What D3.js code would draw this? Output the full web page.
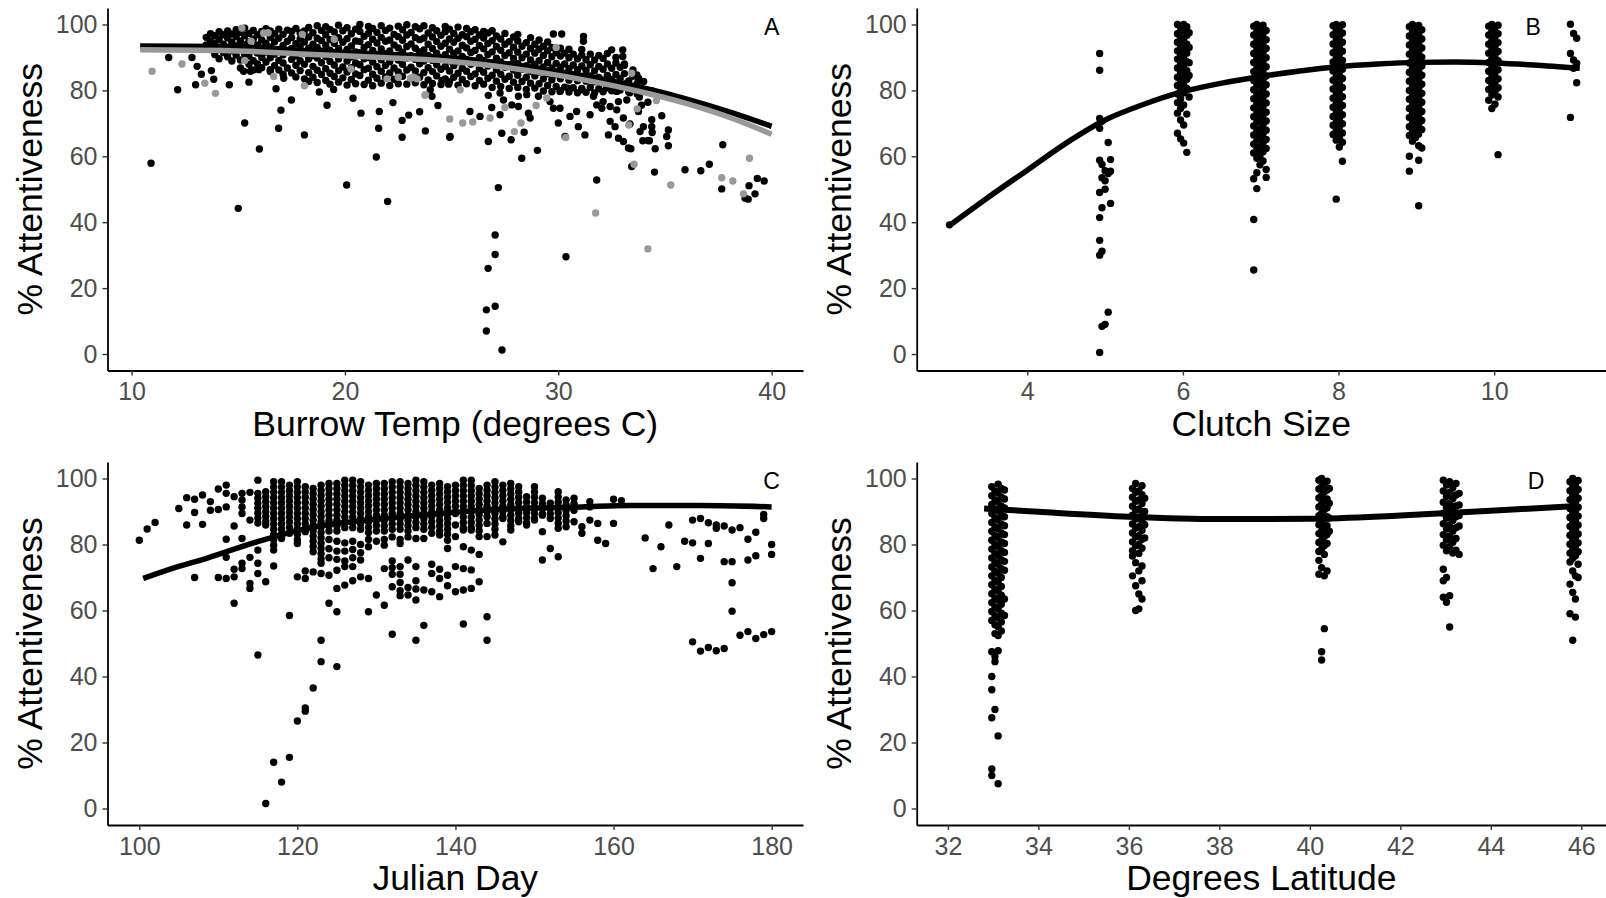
<!DOCTYPE html>
<html>
<head>
<meta charset="utf-8">
<script src="https://cdn.jsdelivr.net/npm/d3@7"></script>
<style>
body { margin: 0; background: #fff; }
svg { display: block; background: #fff; font-family: "Liberation Sans", Arial, sans-serif; }
.tick text { fill: #4d4d4d; font-size: 25px; font-family: "Liberation Sans", Arial, sans-serif; }
.tick line { stroke: #333; stroke-width: 1.4; }
.domain { stroke: #000; stroke-width: 1.8; }
.title { font-size: 35.5px; fill: #000; }
.plabel { font-size: 23px; fill: #000; }
</style>
</head>
<body>
<svg id="chart" width="1606" height="898"></svg>
<script>
// tick values
const yTicks = [0, 20, 40, 60, 80, 100];
const tempTicks = [10, 20, 30, 40];
const clutchTicks = [4, 6, 8, 10];
const dayTicks = [100, 120, 140, 160, 180];
const latTicks = [32, 34, 36, 38, 40, 42, 44, 46];

// Panel A - burrow temp. dense band as [x, [y...]]
const tempBand = [
  [13.5,[93.8,96.1]],[13.7,[92.4,95.0,97.2]],[13.9,[90.9,94.2,96.6]],[14.1,[92.8,95.5,97.8,89.6]],
  [14.3,[91.5,94.0,96.9]],[14.5,[93.1,95.9,98.0,90.2]],[14.7,[92.0,94.6,97.1,88.9]],[14.9,[90.7,93.5,96.3,98.4]],
  [15.1,[89.2,92.4,95.0,97.6,86.8]],[15.3,[91.0,93.9,96.6,98.9]],[15.5,[87.9,90.4,94.8,97.3]],[15.7,[89.0,92.1,95.6,98.2,86.2]],
  [15.9,[91.3,93.8,96.9,88.0]],[16.1,[86.9,90.0,92.9,95.3,97.9]],[16.3,[88.6,91.6,94.3,98.7]],[16.5,[85.7,89.9,93.1,96.1,98.0]],
  [16.7,[87.5,91.0,94.7,97.2]],[16.9,[86.2,89.1,92.4,95.8,98.6]],[17.1,[88.3,90.8,93.6,97.0,84.9]],[17.3,[86.8,91.9,94.9,98.3]],
  [17.5,[85.3,89.4,92.7,96.0,97.9]],[17.7,[87.6,90.5,94.2,98.8,84.1]],[17.9,[86.0,89.0,93.3,95.6,97.4]],[18.1,[83.5,87.9,91.2,94.7,98.0]],
  [18.3,[85.4,89.5,92.8,96.2,99.1,82.7]],[18.5,[84.0,87.3,90.6,94.0,97.5]],[18.7,[82.4,86.1,89.8,93.0,95.8,99.6]],[18.9,[84.8,88.4,91.9,95.1,98.2]],
  [19.1,[83.0,86.6,90.3,93.7,96.9,99.3]],[19.3,[81.9,85.2,88.8,92.2,95.4,98.5]],[19.5,[84.2,87.7,91.0,94.3,97.7]],[19.7,[82.5,86.0,89.5,92.7,96.0,99.8]],
  [19.9,[83.8,87.1,90.8,94.6,98.1]],[20.1,[81.6,85.6,88.9,92.4,95.7,99.0]],[20.3,[83.3,86.9,90.1,93.5,97.2]],[20.5,[82.0,85.0,88.3,91.7,95.0,98.6]],
  [20.7,[84.5,87.8,91.4,94.8,97.9,100.0]],[20.9,[81.8,86.3,89.6,93.0,96.4]],[21.1,[83.1,86.7,90.0,93.9,97.3,99.4]],[21.3,[81.4,84.9,88.6,92.1,95.5,98.8]],
  [21.5,[83.7,87.2,90.9,94.4,97.6]],[21.7,[82.2,85.8,89.3,92.6,96.1,99.6]],[21.9,[84.1,87.6,91.1,94.9,98.2]],[22.1,[81.5,85.3,88.7,92.0,95.3,98.9]],
  [22.3,[83.4,86.8,90.4,93.8,97.0]],[22.5,[82.0,85.6,89.2,92.9,96.3,99.5]],[22.7,[84.3,87.9,91.6,95.2,98.4]],[22.9,[81.9,86.2,89.8,93.3,96.8,99.9]],
  [23.1,[83.6,87.0,90.5,94.1,97.6]],[23.3,[82.3,85.9,89.4,92.8,96.0,99.3]],[23.5,[84.0,88.1,91.7,95.4,98.7]],[23.7,[81.7,85.4,88.9,92.3,95.9,99.6]],
  [23.9,[83.2,86.9,90.6,94.0,97.4]],[24.1,[82.1,85.7,89.1,92.7,96.2,99.0]],[24.3,[84.4,87.8,91.3,94.8,98.1]],[24.5,[81.8,86.4,89.9,93.4,96.7]],
  [24.7,[83.5,87.3,90.8,94.3,97.8,99.4]],[24.9,[82.6,85.9,89.0,92.5,95.6,98.6]],[25.1,[84.0,87.5,91.2,94.6,97.3]],[25.3,[81.6,85.2,88.7,92.0,95.8,99.2]],
  [25.5,[83.3,86.7,90.3,93.7,96.9]],[25.7,[82.0,85.8,89.4,92.9,96.3,98.8]],[25.9,[84.2,87.9,91.5,94.9,97.8]],[26.1,[81.4,85.0,88.5,92.1,95.5,98.4]],
  [26.3,[83.0,86.6,90.0,93.6,96.8]],[26.5,[81.9,85.5,89.1,92.6,95.9,97.9]],[26.7,[83.7,87.4,90.9,94.2,97.4]],[26.9,[80.9,84.6,88.2,91.7,95.1,98.1]],
  [27.1,[82.8,86.3,89.8,93.3,96.5]],[27.3,[81.2,84.9,88.6,92.2,95.6]],[27.5,[83.4,87.0,90.6,94.0,97.3]],[27.7,[80.6,84.3,87.8,91.4,94.8]],
  [27.9,[82.5,86.2,89.7,93.1,96.2]],[28.1,[80.9,84.6,88.1,91.6,95.0,97.0]],[28.3,[82.7,86.4,89.9,93.4]],[28.5,[80.3,84.0,87.5,91.0,94.5]],
  [28.7,[82.2,85.8,89.2,92.7,96.0]],[28.9,[80.7,84.4,87.9,91.3,94.0]],[29.1,[82.0,85.6,89.0,92.5,95.3]],[29.3,[79.8,83.5,87.1,90.6,93.4]],
  [29.5,[81.5,85.0,88.5,92.0,94.7]],[29.7,[79.6,83.2,86.8,90.2,93.0]],[29.9,[81.2,84.8,88.2,91.5]],[30.1,[79.9,83.5,87.0,90.4,92.8]],
  [30.3,[81.0,84.6,88.0,91.3]],[30.5,[79.5,83.1,86.6,89.9,92.5]],[30.7,[80.8,84.3,87.7,91.0]],[30.9,[79.3,82.9,86.3,89.6]],
  [31.1,[80.6,84.0,87.4,90.7,92.4]],[31.3,[79.4,82.8,86.1,89.3]],[31.5,[80.9,84.4,87.8,91.0]],[31.7,[79.2,82.6,85.9,89.2]],
  [31.9,[80.5,83.9,87.3,90.6]],[32.1,[79.6,83.0,86.4,89.7]],[32.3,[81.1,84.5,88.0,91.2]],[32.5,[79.9,83.3,86.7]],
  [32.7,[81.4,84.8,88.3,90.0]],[32.9,[80.1,83.6,87.0]],[33.1,[81.7,85.1,88.0]],[33.3,[79.5,82.9]],
  [33.5,[80.8,84.3]],[33.7,[78.9,82.2]],[33.9,[80.3]]
];

// Panel A - scattered black points [temp, attentiveness]
const tempBlack = [
  [11.74,90.0],[12.16,80.2],[12.83,90.0],[13.07,87.3],[13.27,84.9],[13.74,86.0],[13.0,81.7],[13.85,83.4],[14.58,81.7],
  [15.3,70.1],[15.99,62.2],[10.91,57.9],[15.0,44.2],[15.25,85.8],[15.5,82.5],[15.57,85.8],[15.96,86.3],[16.5,86.3],
  [16.77,80.5],[17.13,83.7],[17.0,74.0],[17.49,77.1],[16.89,68.5],[18.1,66.5],[18.8,79.5],[19.16,75.5],[19.47,80.3],
  [20.38,77.6],[20.75,73.1],[20.08,51.3],[21.47,59.8],[21.61,73.6],[21.58,68.5],[22.0,46.3],[22.25,76.3],[22.68,70.9],
  [22.99,72.5],[22.68,65.8],[23.5,73.5],[23.77,67.7],[24.36,75.4],[24.91,65.8],[24.0,80.2],[24.08,78.2],[24.55,83.0],
  [24.86,81.9],[31.18,96.4],[31.18,94.9],[29.77,97.1],[30.16,97.1],[32.5,92.3],[33.02,92.3],[33.02,90.3],[33.68,84.7],
  [33.76,83.7],[33.21,77.1],[33.76,73.6],[34.38,71.1],[33.99,69.0],[33.83,67.5],[34.38,69.0],[35.16,68.0],[35.08,66.0],
  [35.16,63.2],[34.54,62.3],[33.96,64.7],[34.27,64.7],[33.44,56.9],[34.51,55.2],[35.94,55.9],[36.68,55.6],[37.08,57.6],
  [37.71,63.5],[37.66,50.1],[38.76,47.3],[38.94,51.1],[39.22,48.6],[39.33,53.3],[39.65,52.5],[38.9,47.0],[31.8,52.8],
  [27.19,50.5],[28.29,59.4],[29.02,61.8],[26.72,64.5],[27.79,65.0],[27.35,67.0],[28.4,67.3],[30.32,66.0],[31.25,66.5],
  [30.94,69.0],[30.55,72.1],[30.0,70.1],[30.08,74.6],[30.86,73.6],[31.49,72.6],[32.04,74.6],[32.43,75.1],[32.74,74.1],
  [32.43,70.6],[32.66,69.0],[32.35,66.5],[32.82,65.5],[33.05,64.5],[33.29,62.5],[33.36,69.8],[33.05,71.6],[32.82,76.6],
  [24.93,66.0],[26.33,72.1],[25.86,73.6],[27.27,72.6],[26.88,74.8],[27.82,75.6],[28.13,75.1],[28.6,73.1],[28.68,71.6],
  [27.43,77.1],[26.72,78.5],[27.27,79.2],[28.13,78.2],[28.52,78.7],[29.07,78.2],[29.61,76.6],[29.77,74.6],[30.08,79.7],
  [30.47,80.7],[31.1,80.2],[31.65,78.2],[31.8,75.6],[32.1,76.6],[32.27,80.7],[32.74,79.7],[34.85,72.3],[34.4,67.2],
  [34.2,64.8],[33.4,62.3],[27.04,36.1],[27.04,30.2],[26.71,26.0],[26.63,13.4],[27.04,14.5],[26.63,7.0],[27.36,1.2],
  [30.36,29.5],[33.1,87.6],[33.2,82.1],[33.35,79.3],[33.5,86.2],[33.6,80.5],[33.8,78.0],[34.0,82.7],[34.2,76.4],
  [34.4,79.8],[33.9,75.5]
];

// Panel A - grey points
const tempGray = [
  [10.96,85.8],[12.36,88.0],[13.43,82.2],[13.93,79.1],[15.3,89.1],[15.6,94.9],[16.19,97.4],[15.17,98.9],[16.4,97.5],
  [16.66,84.2],[18.1,81.4],[20.28,86.5],[21.97,83.5],[23.07,83.7],[23.38,83.5],[23.77,78.7],[24.91,71.3],[25.52,70.1],
  [25.99,70.4],[26.8,71.6],[27.5,74.8],[27.94,67.5],[28.25,70.1],[28.96,75.4],[29.46,77.7],[30.35,65.7],[33.44,85.2],
  [33.55,57.6],[35.27,51.3],[37.66,53.5],[38.18,52.5],[38.96,59.4],[38.68,48.6],[31.75,42.8],[34.2,31.9],[29.9,93.0],
  [22.5,84.0],[18.0,97.0],[19.5,95.5],[33.3,69.5],[34.6,76.9],[33.7,74.4],[25.4,80.2],[23.2,84.0],[23.75,78.5]
];

const tempFitBlack = [[10.4,93.5],[14.3,93.3],[18.5,92.0],[22,91.0],[25,89.9],[29.6,86.2],[33.7,81.2],[35.9,77.6],[38.2,73.1],[40,69.1]];
const tempFitGray = [[10.4,92.3],[14.3,92.1],[18.5,90.9],[22,89.9],[25,88.8],[29.6,85.0],[33.7,79.8],[35.9,76.2],[38.2,71.4],[40,66.7]];

// Panel B - clutch size, jittered columns [x, [y...]]
const clutchCols = [
  [3.0,[39.2]],
  [4.93,[91.2,86.1,71.5,68.5,58.8,49.0,41.4,34.5,30.0,0.5]],
  [4.96,[70.6,57.5,53.5,44.4,31.2,8.4]],
  [5.0,[55.6,52.6,50.0,9.0]],
  [5.04,[64.2,54.8,12.7]],
  [5.07,[59.0,55.5,45.7]],
  [5.93,[100,97.2,94.6,92.0,89.5,86.8,84.0,81.5,78.9,76.3,73.1,67.0]],
  [5.97,[99.0,96.0,93.3,90.7,88.0,85.4,82.7,80.0,77.5,74.5,71.0,65.3]],
  [6.01,[100,98.0,95.3,92.5,89.8,87.2,84.6,81.9,79.3,75.6,69.5,64.0]],
  [6.05,[99.3,96.7,94.0,91.3,88.7,86.0,83.4,80.6,72.8,61.2]],
  [6.08,[97.5,93.0,88.4,84.5,78.0]],
  [6.91,[99.5,96.8,94.0,91.2,88.5,85.7,83.0,80.2,77.5,74.7,72.0,69.2,66.5,63.7,61.0,53.2,40.8,25.5]],
  [6.95,[100,97.8,95.1,92.3,89.6,86.9,84.1,81.4,78.6,75.9,73.1,70.4,67.6,64.9,62.1,59.4,55.0,50.2]],
  [6.99,[98.7,95.9,93.2,90.4,87.7,84.9,82.2,79.4,76.7,73.9,71.2,68.4,65.7,62.9,60.2,57.4]],
  [7.03,[99.8,97.1,94.4,91.6,88.9,86.1,83.4,80.6,77.9,75.1,72.4,69.6,66.9,64.1,61.4,58.6]],
  [7.07,[98.2,95.4,92.7,89.9,87.2,84.4,81.7,78.9,76.2,73.4,70.7,67.9,65.1,62.4,56.0,53.6]],
  [7.93,[99.6,96.9,94.1,91.4,88.6,85.9,83.1,80.4,77.6,74.9,72.1,69.4,66.6]],
  [7.97,[100,98.0,95.2,92.5,89.7,87.0,84.2,81.5,78.7,76.0,73.2,70.5,67.7,64.9,47.0]],
  [8.01,[99.0,96.3,93.5,90.8,88.0,85.3,82.5,79.8,77.0,74.3,71.5,68.8,65.8,62.8]],
  [8.05,[99.9,97.4,94.6,91.9,89.1,86.4,83.6,80.9,78.1,75.4,72.6,69.9,67.1,64.3,58.5]],
  [8.91,[99.3,96.5,93.8,91.0,88.3,85.5,82.8,80.0,77.3,74.5,71.8,69.0,66.3,60.0,55.5]],
  [8.95,[100,97.6,94.9,92.1,89.4,86.6,83.9,81.1,78.4,75.6,72.9,70.1,67.4,64.6]],
  [8.99,[98.8,96.0,93.3,90.5,87.8,85.0,82.3,79.5,76.8,74.0,71.3,68.5,65.7]],
  [9.03,[99.7,97.0,94.3,91.5,88.8,86.0,83.3,80.5,77.8,75.0,72.3,69.5,66.8,63.2,58.8,45.0]],
  [9.07,[98.4,95.6,92.9,90.1,87.4,84.6,81.9,79.1,76.4,73.6,70.9,68.1,62.5]],
  [9.93,[99.5,96.8,94.0,91.3,88.5,85.8,83.0,80.3,77.0]],
  [9.97,[100,97.9,95.1,92.4,89.6,86.9,84.1,81.4,78.6,74.5]],
  [10.01,[98.9,96.2,93.4,90.7,87.9,85.2,82.4,79.7,75.8]],
  [10.05,[99.8,97.2,94.5,91.8,89.0,86.3,83.5,80.8,78.0,60.5]],
  [10.98,[100.1,91.2,71.8]],
  [11.02,[97.3,89.2,86.7]],
  [11.06,[95.8,88.2,82.3]]
];
const clutchFit = [[3,39],[3.5,47.6],[4,55.8],[4.5,64],[5,71],[5.5,75.8],[6,79.6],[6.5,82.2],[7,84.2],[7.5,85.9],[8,87.2],[8.5,88.0],[9,88.5],[9.5,88.6],[10,88.3],[10.5,87.7],[11.1,86.7]];

// Panel C - julian day columns [day, [y...]]
const dayCols = [
  [100,[81.3]],[101,[84.7]],[102,[86.7]],[105,[90.9]],[106,[94.2,85.9]],[107,[93.7,89.7,70.0]],
  [108,[95.0,86.1]],[109,[93.0,90.4]],[110,[96.8,90.6,70.0]],[111,[98.0,95.5,91.4,81.6,76.1,69.7]],
  [112,[94.5,85.6,72.5,70.2,62.2]],[113,[95.5,93.5,91.4,89.4,81.8,74.3,72.7]],[114,[95.8,87.4,76.1,68.2,66.7]],
  [115,[99.5,95.5,94.0,92.5,91.0,89.5,88.0,86.5,78.3,74.3,71.2,46.5]],
  [116,[96.0,94.5,93.0,91.5,90.0,88.5,87.0,85.9,68.7,1.5]],
  [117,[99.0,97.4,95.8,94.2,92.6,91.0,89.4,87.8,86.2,84.6,83.0,81.4,79.8,78.3,73.5,14.0]],
  [118,[99.0,97.4,95.8,94.2,92.6,91.0,89.4,87.8,86.2,84.6,83.1,81.8,8.0]],
  [119,[98.0,96.4,94.8,93.2,91.6,90.0,88.4,86.8,85.2,83.4,58.5,15.5]],
  [120,[99.0,97.4,95.8,94.2,92.6,91.0,89.4,87.8,86.2,84.6,83.0,81.4,80.3,70.2,26.5]],
  [121,[97.5,95.9,94.3,92.7,91.1,89.5,87.9,86.3,84.7,83.9,72.0,69.7,30.5,29.5]],
  [122,[97.0,95.4,93.8,92.2,90.6,89.0,87.4,85.8,84.2,82.6,81.0,79.4,77.8,71.7,36.5]],
  [123,[98.0,96.4,94.8,93.2,91.6,90.0,88.4,86.8,85.2,83.6,82.0,80.4,78.8,77.2,75.6,74.3,71.2,51.0,44.5]],
  [124,[98.5,96.9,95.3,93.7,92.1,90.5,88.9,87.3,85.7,84.1,81.5,78.7,76.0,70.7,62.2]],
  [125,[98.5,96.9,95.3,93.7,92.1,90.5,88.9,87.3,85.7,84.1,81.0,78.0,75.5,72.2,66.7,59.6,43.0]],
  [126,[99.5,97.9,96.3,94.7,93.1,91.5,89.9,88.3,86.7,85.1,80.5,78.0,75.0,73.3,67.7]],
  [127,[99.5,97.9,96.3,94.7,93.1,91.5,89.9,88.3,86.7,85.1,81.0,78.5,76.0,73.3,69.0]],
  [128,[99.0,97.4,95.8,94.2,92.6,91.0,89.4,87.8,86.2,84.6,80.0,77.5,75.3,70.2]],
  [129,[98.0,96.4,94.8,93.2,91.6,90.0,88.4,86.8,85.2,83.6,81.5,79.3,69.7,59.6]],
  [130,[98.5,96.9,95.3,93.7,92.1,90.5,88.9,87.3,85.7,84.1,81.0,64.7]],
  [131,[98.5,96.9,95.3,93.7,92.1,90.5,88.9,87.3,85.7,84.1,81.5,79.8,72.7,61.6]],
  [132,[99.0,97.4,95.8,94.2,92.6,91.0,89.4,87.8,86.2,84.6,82.3,75.0,73.0,71.0,67.2,52.8]],
  [133,[99.0,97.4,95.8,94.2,92.6,91.0,89.4,87.8,86.2,84.6,81.5,80.3,73.3,71.0,68.5,66.0,64.5]],
  [134,[98.5,96.9,95.3,93.7,92.1,90.5,88.9,87.3,85.7,84.1,82.3,75.3,67.0,64.7]],
  [135,[99.5,97.9,96.3,94.7,93.1,91.5,89.9,88.3,86.7,85.1,81.8,73.3,69.0,66.5,63.2,51.0]],
  [136,[99.0,97.4,95.8,94.2,92.6,91.0,89.4,87.8,86.2,84.6,81.8,66.2,55.5]],
  [137,[98.0,96.4,94.8,93.2,91.6,90.0,88.4,86.8,85.2,83.4,74.0,71.2,65.7]],
  [138,[98.5,96.9,95.3,93.7,92.1,90.5,88.9,87.3,85.7,84.1,82.9,72.5,69.7,64.2]],
  [139,[97.5,95.9,94.3,92.7,91.1,89.5,87.9,86.3,84.7,83.1,81.3,78.8,70.7,67.5]],
  [140,[98.0,96.4,94.8,93.2,91.6,90.0,89.4,85.9,82.4,73.3,65.7]],
  [141,[99.5,97.9,96.3,94.7,93.1,91.5,89.9,88.3,86.7,85.1,84.4,79.3,72.7,66.2,55.9]],
  [142,[99.5,97.9,96.3,94.7,93.1,91.5,89.9,88.3,86.7,85.1,84.4,78.3,72.3,66.7]],
  [143,[97.0,95.4,93.8,92.2,90.6,89.0,87.4,85.8,84.2,82.4,77.0,68.7]],
  [144,[98.0,96.4,94.8,93.2,91.6,90.0,88.4,86.4,82.4,58.1,51.0]],
  [145,[99.0,97.4,95.8,94.2,92.6,91.0,89.4,87.8,86.2,84.6,82.9]],
  [146,[98.0,96.4,94.8,93.2,91.6,90.0,88.4,87.9,80.8]],
  [147,[98.5,96.9,95.3,93.7,92.1,90.5,88.9,87.3,85.7,84.4]],
  [148,[97.5,95.9,94.3,92.7,91.1,89.5,87.9,86.9]],
  [149,[94.5,92.9,91.3,89.7,88.1,86.5,85.9]],
  [150,[97.5,95.9,94.3,92.7,91.1,89.5,87.9,87.4]],
  [151,[94.0,92.4,90.8,89.2,88.9,83.9,75.3]],
  [152,[92.5,90.9,89.3,87.9,78.8]],
  [153,[96.0,94.4,92.8,91.2,89.6,88.0,86.4,84.9,76.3]],
  [154,[93.5,91.9,90.3,88.7,87.1,85.4]],
  [155,[94.0,92.4,90.4,86.9]],
  [156,[85.4,83.4]],[157,[93.0,91.4,87.4]],[158,[86.4,81.3]],[159,[80.3]],[160,[93.7,86.4]],[161,[93.3]],
  [164,[82.0]],[165,[72.7]],[166,[79.3]],[167,[85.9]],[168,[73.3]],[169,[81.0]],
  [170,[87.4,80.5,50.5]],[171,[87.9,75.8,47.7]],[172,[86.6,80.3,48.8]],[173,[85.9,84.9,47.8]],
  [174,[85.6,74.8,48.5]],[175,[84.4,74.8,68.4,59.8]],[176,[85.1,52.5]],[177,[81.6,75.3,53.6]],
  [178,[83.7,76.6,51.5]],[179,[89.1,87.9,52.7]],[180,[80.0,77.0,53.6]]
];
const dayFit = [[100.5,69.7],[104,72.6],[108.6,75.9],[114.9,80.8],[121.2,84.9],[129.7,87.6],[140,89.8],[147.7,90.9],[156,91.4],[162,91.8],[171,91.8],[180,91.4]];

// Panel D - latitude clusters [lat, [y...]]
const latCols = [
  [32.97,[97.5,94.8,92.1,89.4,86.7,84.0,81.3,78.6,75.9,73.2,70.5,67.8,65.1,62.4,59.7,57.0,47.5,40.0,36.0,27.5,12.0,10.0]],
  [33.04,[96.2,93.5,90.8,88.1,85.4,82.7,80.0,77.3,74.6,71.9,69.2,66.5,63.8,61.1,58.4,55.7,53.0,46.0,44.5,30.0]],
  [33.11,[98.3,95.6,92.9,90.2,87.5,84.8,82.1,79.4,76.7,74.0,71.3,68.6,65.9,63.2,60.5,57.8,55.1,52.4,47.8,22.0,7.5]],
  [33.18,[97.0,94.3,91.6,88.9,86.2,83.5,80.8,78.1,75.4,72.7,70.0,67.3,64.6,61.9,59.2,56.5,53.8]],
  [33.25,[96.5,93.8,91.1,88.4,85.7,83.0,80.3,77.6,74.9,72.2,63.5,58.5]],
  [36.08,[97.0,94.3,91.6,88.9,86.2,83.5,80.8,78.1,76.5,70.5]],
  [36.15,[98.5,95.8,93.1,90.4,87.7,85.0,82.3,79.6,74.5,67.5,60.0]],
  [36.22,[96.2,93.5,90.8,88.1,85.4,82.7,80.0,77.3,72.0,65.0,60.5]],
  [36.29,[97.8,95.1,92.4,89.7,87.0,84.3,81.6,78.9,73.5,69.0,63.5]],
  [36.35,[94.0,90.0,86.0,82.0]],
  [40.2,[99.5,96.8,94.1,91.4,88.7,86.0,83.3,80.6,77.9,75.2,71.0]],
  [40.26,[100,97.5,94.8,92.1,89.4,86.7,84.0,81.3,78.6,73.0,47.5,45.0]],
  [40.32,[98.6,95.9,93.2,90.5,87.8,85.1,82.4,79.7,77.0,70.5,54.5]],
  [40.38,[99.2,96.5,93.8,91.1,88.4,85.7,83.0,80.3,72.0]],
  [40.43,[97.0,92.5,88.0,84.0]],
  [42.95,[99.5,96.2,92.8,89.5,86.3,83.0,79.8,72.5,69.0,64.0]],
  [43.02,[98.0,94.6,91.3,88.0,84.7,81.4,78.1,70.0,62.5]],
  [43.09,[99.0,95.8,92.5,89.2,85.9,82.6,79.3,64.5,55.0]],
  [43.16,[97.2,93.9,90.6,87.3,84.0,80.7,77.4]],
  [43.23,[98.5,95.0,91.7,88.4,85.1,81.8,78.3]],
  [43.3,[95.5,92.0,88.8,85.6,77.0]],
  [45.75,[99.0,96.3,93.6,90.9,88.2,85.5,82.8,80.1,77.4,74.7,68.0,59.0]],
  [45.81,[100,97.4,94.7,92.0,89.3,86.6,83.9,81.2,78.5,75.8,72.0,65.5,51.0]],
  [45.87,[98.2,95.5,92.8,90.1,87.4,84.7,82.0,79.3,76.6,70.5,63.5,58.0]],
  [45.93,[99.4,96.7,94.0,91.3,88.6,85.9,83.2,80.5,77.8,74.0,70.0]]
];
const latFit = [[32.8,90.9],[34,89.9],[36,88.4],[38,87.7],[40,87.8],[42,88.8],[44,90.2],[45.9,91.7]];

// flatten [x, [ys]] columns into [x, y] points
const flatCols = cols => cols.flatMap(([x, ys]) => ys.map(v => [x, v]));

const svg = d3.select("#chart");

const panels = [
  { id: "A", left: 107.5, right: 803, top: 8, bottom: 370.5, xDomain: [8.87, 41.47], xTicks: tempTicks,
    xTitle: "Burrow Temp (degrees C)", label: [40, 100],
    layers: [[flatCols(tempBand).concat(tempBlack), "#000"], [tempGray, "#999"]],
    fits: [[tempFitBlack, "#000"], [tempFitGray, "#999"]] },
  { id: "B", left: 916.7, right: 1606, top: 8, bottom: 370.5, xDomain: [2.579, 11.437], xTicks: clutchTicks,
    xTitle: "Clutch Size", label: [10.5, 100],
    layers: [[flatCols(clutchCols), "#000"]], fits: [[clutchFit, "#000"]] },
  { id: "C", left: 107.5, right: 803, top: 462, bottom: 825, xDomain: [95.98, 183.97], xTicks: dayTicks,
    xTitle: "Julian Day", label: [180, 100],
    layers: [[flatCols(dayCols), "#000"]], fits: [[dayFit, "#000"]] },
  { id: "D", left: 916.7, right: 1606, top: 462, bottom: 825, xDomain: [31.31, 46.546], xTicks: latTicks,
    xTitle: "Degrees Latitude", label: [45, 100],
    layers: [[flatCols(latCols), "#000"]], fits: [[latFit, "#000"]] }
];

function drawPanel(p) {
  const x = d3.scaleLinear().domain(p.xDomain).range([p.left, p.right]);
  const y = d3.scaleLinear().domain([-5, 105]).range([p.bottom, p.top]);
  const g = svg.append("g").attr("class", "panel-" + p.id);

  g.append("g")
    .attr("transform", `translate(0,${p.bottom})`)
    .call(d3.axisBottom(x).tickValues(p.xTicks).tickSize(5).tickPadding(7).tickSizeOuter(0));

  g.append("g")
    .attr("transform", `translate(${p.left},0)`)
    .call(d3.axisLeft(y).tickValues(yTicks).tickSize(5).tickPadding(5).tickSizeOuter(0));

  // points
  p.layers.forEach(([pts, color]) => {
    g.append("g").selectAll("circle")
      .data(pts)
      .enter()
      .append("circle")
      .attr("cx", d => x(d[0]))
      .attr("cy", d => y(d[1]))
      .attr("r", 3.7)
      .attr("fill", color);
  });

  // fitted curves
  const line = d3.line().x(d => x(d[0])).y(d => y(d[1])).curve(d3.curveMonotoneX);
  p.fits.forEach(([pts, color]) => {
    g.append("path")
      .attr("d", line(pts))
      .attr("fill", "none")
      .attr("stroke", color)
      .attr("stroke-width", p.id === "D" ? 6 : 5.5);
  });

  // titles
  g.append("text")
    .attr("class", "title")
    .attr("x", (p.left + p.right) / 2)
    .attr("y", p.bottom + 65)
    .attr("text-anchor", "middle")
    .text(p.xTitle);

  g.append("text")
    .attr("class", "title")
    .attr("transform", `translate(${p.left - 66},${(p.top + p.bottom) / 2}) rotate(-90)`)
    .attr("text-anchor", "middle")
    .text("% Attentiveness");

  // panel letter
  g.append("text")
    .attr("class", "plabel")
    .attr("x", x(p.label[0]))
    .attr("y", y(p.label[1]))
    .attr("dy", "0.46em")
    .attr("text-anchor", "middle")
    .text(p.id);
}

panels.forEach(drawPanel);
</script>
</body>
</html>
